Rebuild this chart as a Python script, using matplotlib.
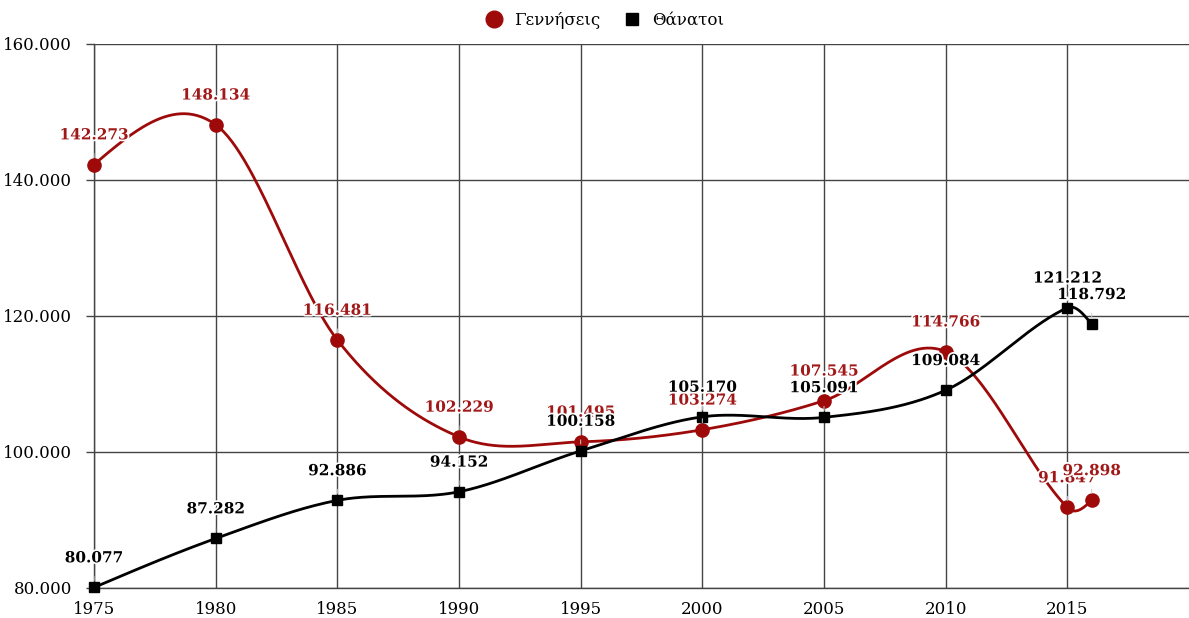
import numpy as np
import matplotlib
matplotlib.use("Agg")
import matplotlib.pyplot as plt
from matplotlib.lines import Line2D
import matplotlib.patheffects as pe

years = [1975, 1980, 1985, 1990, 1995, 2000, 2005, 2010, 2015, 2016]
births = [142273, 148134, 116481, 102229, 101495, 103274, 107545, 114766, 91847, 92898]
deaths = [80077, 87282, 92886, 94152, 100158, 105170, 105091, 109084, 121212, 118792]
series_names = ["Γεννήσεις", "Θάνατοι"]
x_ticks = [1975, 1980, 1985, 1990, 1995, 2000, 2005, 2010, 2015]
y_ticks = [80000, 100000, 120000, 140000, 160000]

RED = "#9e0a0a"
RED_TXT = "#a01818"
BLACK = "#000000"
GRID = "#444444"

plt.rcParams['font.family'] = ['DejaVu Serif']


def smooth(xs, ys, n=60):
    xs = np.asarray(xs, float)
    ys = np.asarray(ys, float)
    k = len(xs)
    m = np.zeros(k)
    for i in range(1, k - 1):
        m[i] = (ys[i + 1] - ys[i - 1]) / (xs[i + 1] - xs[i - 1])
    d0 = (ys[1] - ys[0]) / (xs[1] - xs[0])
    m[0] = (3 * d0 - m[1]) / 2
    dn = (ys[-1] - ys[-2]) / (xs[-1] - xs[-2])
    m[-1] = (3 * dn - m[-2]) / 2
    ox, oy = [], []
    for i in range(k - 1):
        h = xs[i + 1] - xs[i]
        t = np.linspace(0, 1, n)
        h00 = 2 * t**3 - 3 * t**2 + 1
        h10 = t**3 - 2 * t**2 + t
        h01 = -2 * t**3 + 3 * t**2
        h11 = t**3 - t**2
        ox.extend(xs[i] + t * h)
        oy.extend(h00 * ys[i] + h10 * h * m[i] + h01 * ys[i + 1] + h11 * h * m[i + 1])
    return np.array(ox), np.array(oy)


def fmt(v):
    return f"{int(v):,}".replace(",", ".")


fig = plt.figure(figsize=(11.89, 6.18), dpi=100)
ax = fig.add_axes([94 / 1189, 30 / 618, 1 - 94 / 1189, (588 - 44) / 618])

ax.set_xlim(1975, 2020)
ax.set_ylim(80000, 160000)
ax.set_xticks(x_ticks)
ax.set_yticks(y_ticks)
ax.set_xticklabels([str(v) for v in x_ticks], fontsize=12)
ax.set_yticklabels([fmt(v) for v in y_ticks], fontsize=12)
ax.tick_params(axis='x', length=0, pad=9)
ax.tick_params(axis='y', length=6, width=1, color=GRID, pad=10)
ax.grid(True, color=GRID, lw=1.0)
ax.set_axisbelow(True)
for s in ['top', 'right']:
    ax.spines[s].set_visible(False)
ax.spines['left'].set_color(GRID)
ax.spines['bottom'].set_color(GRID)
ax.spines['left'].set_linewidth(1.0)
ax.spines['bottom'].set_linewidth(1.0)

bx, by = smooth(years, births)
dx, dy = smooth(years, deaths)
ax.plot(bx, by, color=RED, lw=2, zorder=3, clip_on=False)
ax.plot(dx, dy, color=BLACK, lw=2, zorder=3, clip_on=False)
ax.plot(years, births, 'o', color=RED, ms=9.5, zorder=4, clip_on=False)
ax.plot(years, deaths, 's', color=BLACK, ms=6.5, zorder=4, clip_on=False)

halo = [pe.withStroke(linewidth=2.5, foreground='white')]
for vals, col, z in [(births, RED_TXT, 5), (deaths, BLACK, 6)]:
    for x, v in zip(years, vals):
        ax.annotate(fmt(v), xy=(x, v), xytext=(0, 21), textcoords='offset points',
                    ha='center', va='center', fontsize=11, fontweight='bold', color=col,
                    zorder=z, path_effects=halo, annotation_clip=False,
                    arrowprops=dict(arrowstyle='-', color='#cccccc', lw=0.7,
                                    shrinkA=6, shrinkB=5))

handles = [Line2D([], [], marker='o', color=RED, ls='none', ms=12),
           Line2D([], [], marker='s', color=BLACK, ls='none', ms=8)]
fig.legend(handles, series_names, loc='upper center', bbox_to_anchor=(0.505, 1.005),
           ncol=2, frameon=False, fontsize=12, handletextpad=0.2, columnspacing=0.9)

fig.savefig("out.png", dpi=100, facecolor='white')
